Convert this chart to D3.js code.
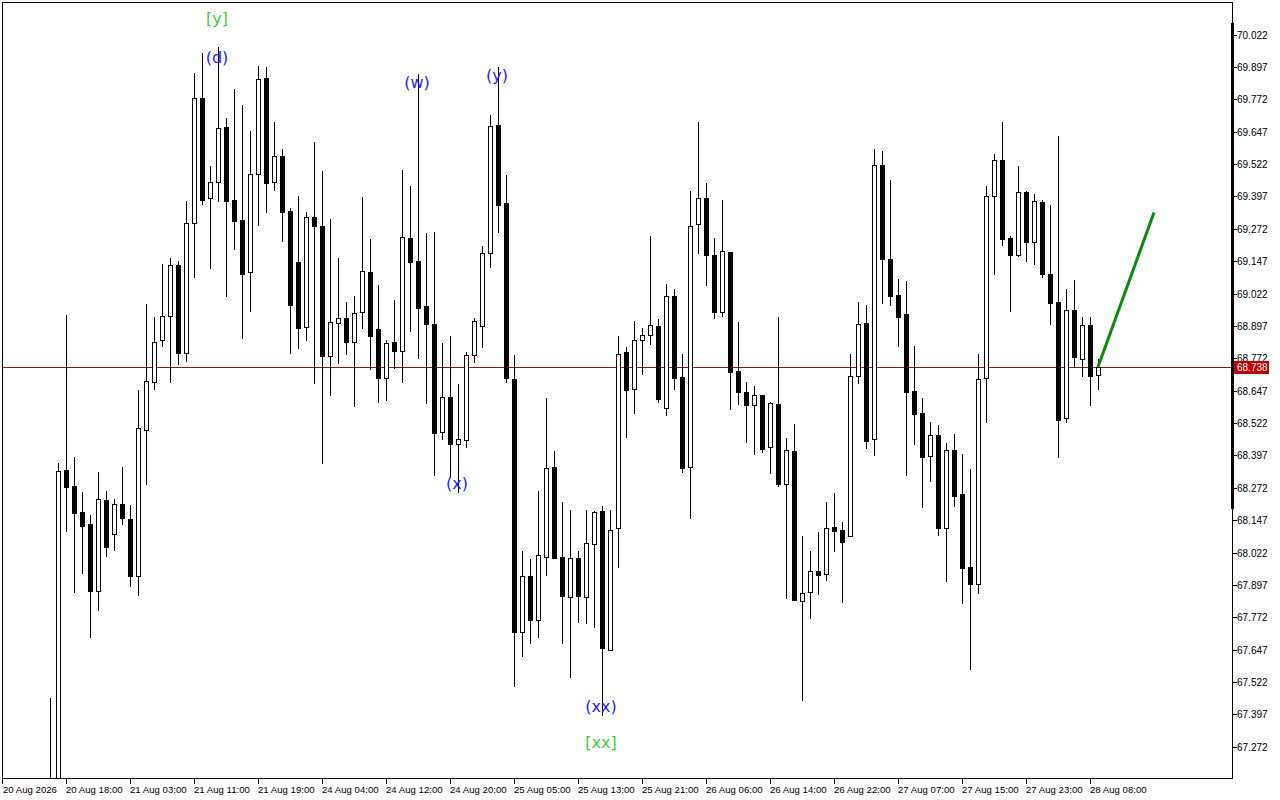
<!DOCTYPE html>
<html><head><meta charset="utf-8">
<script src="https://cdn.jsdelivr.net/npm/d3@7"></script>
<style>html,body{margin:0;padding:0;background:#fff;overflow:hidden}</style>
</head><body><svg id="c" width="1280" height="800"></svg>
<script>
// ---- DATA ----
const opens = [66.950,66.900,68.341,68.279,68.178,68.132,67.875,68.225,68.092,68.209,68.151,67.930,68.494,68.679,68.841,68.934,69.132,68.791,69.293,69.776,69.390,69.451,69.665,69.383,69.306,69.106,69.482,69.854,69.451,69.553,69.342,69.144,68.894,69.317,69.283,68.782,68.907,68.926,68.836,68.949,69.104,68.884,68.695,68.834,68.799,69.236,69.147,68.974,68.904,68.488,68.622,68.440,68.455,68.784,68.898,69.177,69.673,69.371,68.692,67.716,67.931,67.763,68.006,68.352,68.005,67.851,68.001,67.849,68.054,68.182,67.644,68.115,68.795,68.652,68.841,68.861,68.895,68.579,69.012,68.700,68.353,69.289,69.390,69.171,68.949,69.181,68.723,68.640,68.590,68.630,68.428,68.595,68.285,68.414,67.836,67.868,67.949,67.939,68.120,68.109,68.085,68.705,68.909,68.460,69.519,69.157,69.017,68.944,68.645,68.559,68.395,68.477,68.118,68.418,68.248,67.966,67.902,68.695,69.400,69.537,69.237,69.172,69.413,69.222,69.375,69.096,68.989,68.541,68.957,68.768,68.899,68.707];
const highs = [67.460,68.369,68.939,68.391,68.256,68.167,68.333,68.261,68.230,68.352,68.205,68.649,68.982,68.931,69.136,69.159,69.147,69.379,69.873,69.949,69.515,69.975,69.700,69.812,69.750,69.649,69.900,69.897,69.684,69.580,69.351,69.398,69.338,69.607,69.495,69.310,69.159,68.989,69.014,69.395,69.232,69.055,68.843,68.997,69.499,69.438,69.870,69.257,69.259,68.832,68.859,68.673,68.797,68.926,69.205,69.711,69.895,69.480,68.785,68.029,67.997,68.260,68.619,68.414,68.217,68.186,68.028,68.186,68.182,68.201,68.186,68.858,68.815,68.916,68.888,69.244,68.924,69.059,69.039,68.788,69.418,69.684,69.449,69.236,69.383,69.181,68.912,68.680,68.665,68.630,68.603,68.931,68.465,68.518,68.087,68.028,68.102,68.217,68.252,68.140,68.788,68.990,68.978,69.580,69.571,69.459,69.079,69.071,68.820,68.618,68.527,68.516,68.443,68.481,68.402,68.344,68.790,69.438,69.561,69.684,69.244,69.514,69.419,69.407,69.383,69.364,69.630,69.040,69.074,68.931,68.931,68.770];
const lows = [66.850,66.850,68.106,67.871,67.944,67.697,67.800,68.010,68.032,68.132,67.894,67.859,68.288,68.654,68.820,68.681,68.751,68.762,69.085,69.368,69.122,69.380,69.014,69.195,68.851,68.956,69.288,69.338,69.423,69.226,68.791,68.813,68.843,68.675,68.368,68.630,68.755,68.788,68.588,68.890,68.732,68.604,68.611,68.733,68.681,68.878,68.774,68.600,68.321,68.459,68.315,68.257,68.428,68.759,68.814,69.125,69.261,68.679,67.508,67.624,67.674,67.697,67.935,68.000,67.674,67.542,67.755,67.749,67.736,67.395,67.644,67.967,68.469,68.559,68.713,68.826,68.604,68.552,68.652,68.334,68.154,69.178,69.056,68.929,68.936,68.577,68.594,68.450,68.403,68.411,68.330,68.280,67.848,67.839,67.453,67.769,67.862,67.914,68.028,67.831,68.085,68.677,68.426,68.398,68.987,68.979,68.821,68.323,68.440,68.196,68.299,68.090,67.912,68.200,67.827,67.572,67.864,68.527,69.099,69.209,68.956,69.168,69.149,69.134,69.086,68.906,68.389,68.527,68.738,68.705,68.593,68.652];
const closes = [66.900,68.338,68.276,68.176,68.126,67.875,68.229,68.044,68.209,68.156,67.932,68.502,68.683,68.834,68.934,69.132,68.793,69.294,69.776,69.383,69.451,69.660,69.380,69.303,69.098,69.483,69.849,69.450,69.553,69.338,68.979,68.890,69.317,69.284,68.782,68.911,68.926,68.836,68.946,69.108,68.859,68.697,68.830,68.801,69.239,69.145,68.967,68.903,68.485,68.621,68.440,68.460,68.785,68.916,69.177,69.669,69.363,68.697,67.716,67.931,67.763,68.011,68.347,68.000,67.855,68.000,67.855,68.057,68.178,67.654,68.109,68.787,68.648,68.842,68.861,68.899,68.616,69.011,68.697,68.349,69.282,69.390,69.169,68.949,69.185,68.720,68.643,68.590,68.629,68.423,68.599,68.288,68.416,67.839,67.865,67.949,67.935,68.116,68.104,68.063,68.705,68.903,68.454,69.517,69.154,69.014,68.932,68.642,68.557,68.389,68.477,68.118,68.418,68.242,67.964,67.902,68.693,69.398,69.537,69.234,69.172,69.412,69.219,69.378,69.099,68.987,68.535,68.957,68.776,68.899,68.702,68.738];

const priceTicks = [70.022,69.897,69.772,69.647,69.522,69.397,69.272,69.147,69.022,68.897,68.772,68.647,68.522,68.397,68.272,68.147,68.022,67.897,67.772,67.647,67.522,67.397,67.272];
const timeTickIdx = [2,10,18,26,34,42,50,58,66,74,82,90,98,106,114,122,130];
const timeTickLabels = ["20 Aug 18:00","21 Aug 03:00","21 Aug 11:00","21 Aug 19:00","24 Aug 04:00","24 Aug 12:00","24 Aug 20:00","25 Aug 05:00","25 Aug 13:00","25 Aug 21:00","26 Aug 06:00","26 Aug 14:00","26 Aug 22:00","27 Aug 07:00","27 Aug 15:00","27 Aug 23:00","28 Aug 08:00"];
const startDateLabel = "20 Aug 2026";
const currentPrice = 68.738;

const waveTexts  = ["[y]","(d)","(w)","(y)","(x)","(xx)","[xx]"];
const waveIdx    = [21,21,46,56,51,69,69];
const wavePrice  = [70.082,69.935,69.835,69.862,68.290,67.429,67.287];
const waveDegree = ["major","minor","minor","minor","minor","minor","major"];

const forecastIdx = [131,138];
const forecastPrice = [68.738,69.335];

// ---- LAYOUT ----
const L=2, T=2, R=1232, B=778;
const svg = d3.select("#c");
const x = d3.scaleLinear().domain([0,131]).range([50,1098]);
const y = d3.scaleLinear().domain([67.272,70.022]).range([746.75,34.5]);
const px = v => Math.round(x(v));
const py = v => Math.round(y(v));

svg.append("defs").append("clipPath").attr("id","plot")
  .append("rect").attr("x",L+1).attr("y",T+1).attr("width",R-L-1).attr("height",B-T-1);

const plot = svg.append("g").attr("clip-path","url(#plot)");

// current price line
plot.append("line").attr("x1",L).attr("x2",R).attr("y1",py(currentPrice)+0.5).attr("y2",py(currentPrice)+0.5)
  .attr("stroke","#a01010").attr("stroke-width",1);

const candles = opens.map((o,i)=>({i,o,h:highs[i],l:lows[i],c:closes[i]}));
const g = plot.append("g");
g.selectAll("line.wick").data(candles).enter().append("line")
  .attr("x1",d=>px(d.i)+0.5).attr("x2",d=>px(d.i)+0.5)
  .attr("y1",d=>py(d.h)).attr("y2",d=>py(d.l)+1)
  .attr("stroke","#000").attr("stroke-width",1);
g.selectAll("rect.body").data(candles).enter().append("rect")
  .each(function(d){
    const top = py(Math.max(d.o,d.c)), bot = py(Math.min(d.o,d.c));
    const s = d3.select(this);
    if (d.c >= d.o) {
      s.attr("x",px(d.i)-1.5).attr("y",top+0.5).attr("width",4).attr("height",Math.max(bot-top,1))
       .attr("fill","#fff").attr("stroke","#000").attr("stroke-width",1);
    } else {
      s.attr("x",px(d.i)-2).attr("y",top).attr("width",5).attr("height",Math.max(bot-top+1,1))
       .attr("fill","#000");
    }
  });

// forecast line
plot.append("line")
  .attr("x1",x(forecastIdx[0])).attr("y1",y(forecastPrice[0]))
  .attr("x2",x(forecastIdx[1])).attr("y2",y(forecastPrice[1]))
  .attr("stroke","#0a8a0a").attr("stroke-width",3);

// wave labels
plot.selectAll("text.wave").data(waveTexts).enter().append("text")
  .attr("x",(d,k)=>x(waveIdx[k])-1).attr("y",(d,k)=>y(wavePrice[k]))
  .attr("text-anchor","middle").attr("dominant-baseline","central")
  .attr("font-family","DejaVu Sans, sans-serif").attr("font-size",16)
  .attr("fill",(d,k)=>waveDegree[k]==="major"?"#3ccd3c":"#2424ee")
  .text(d=>d);

// frame
const frame = svg.append("g").attr("stroke","#000").attr("stroke-width",1).attr("fill","none");
frame.append("line").attr("x1",L+0.5).attr("x2",L+0.5).attr("y1",T).attr("y2",B+1);
frame.append("line").attr("x1",L).attr("x2",R+1).attr("y1",T+0.5).attr("y2",T+0.5);
frame.append("line").attr("x1",R+0.5).attr("x2",R+0.5).attr("y1",T).attr("y2",B+1);
frame.append("line").attr("x1",L).attr("x2",R+1).attr("y1",B+0.5).attr("y2",B+0.5);
svg.append("rect").attr("x",R-1).attr("y",23).attr("width",3).attr("height",486).attr("fill","#000");

// price axis
const yAxisG = svg.append("g").attr("font-family","Liberation Sans, Arial, sans-serif").attr("font-size",10);
priceTicks.forEach(p=>{
  const yy = py(p);
  yAxisG.append("line").attr("x1",R+1).attr("x2",R+5).attr("y1",yy+0.5).attr("y2",yy+0.5).attr("stroke","#000");
  yAxisG.append("text").attr("x",R+5).attr("y",yy+0.5).attr("dominant-baseline","central").attr("fill","#000").text(d3.format(".3f")(p));
});
// current price tag
const cy = py(currentPrice);
yAxisG.append("rect").attr("x",R+2).attr("y",cy-6).attr("width",35).attr("height",13).attr("fill","#c00000");
yAxisG.append("text").attr("x",R+5).attr("y",cy+0.5).attr("dominant-baseline","central").attr("fill","#fff").text(d3.format(".3f")(currentPrice));

// time axis
const xAxisG = svg.append("g").attr("font-family","Liberation Sans, Arial, sans-serif").attr("font-size",9.6);
xAxisG.append("line").attr("x1",L+0.5).attr("x2",L+0.5).attr("y1",B).attr("y2",B+6).attr("stroke","#000");
xAxisG.append("text").attr("x",L+1).attr("y",793).attr("fill","#000").text(startDateLabel);
timeTickIdx.forEach((ti,k)=>{
  const xx = px(ti);
  xAxisG.append("line").attr("x1",xx+0.5).attr("x2",xx+0.5).attr("y1",B).attr("y2",B+6).attr("stroke","#000");
  xAxisG.append("text").attr("x",xx).attr("y",793).attr("fill","#000").text(timeTickLabels[k]);
});
</script></body></html>
